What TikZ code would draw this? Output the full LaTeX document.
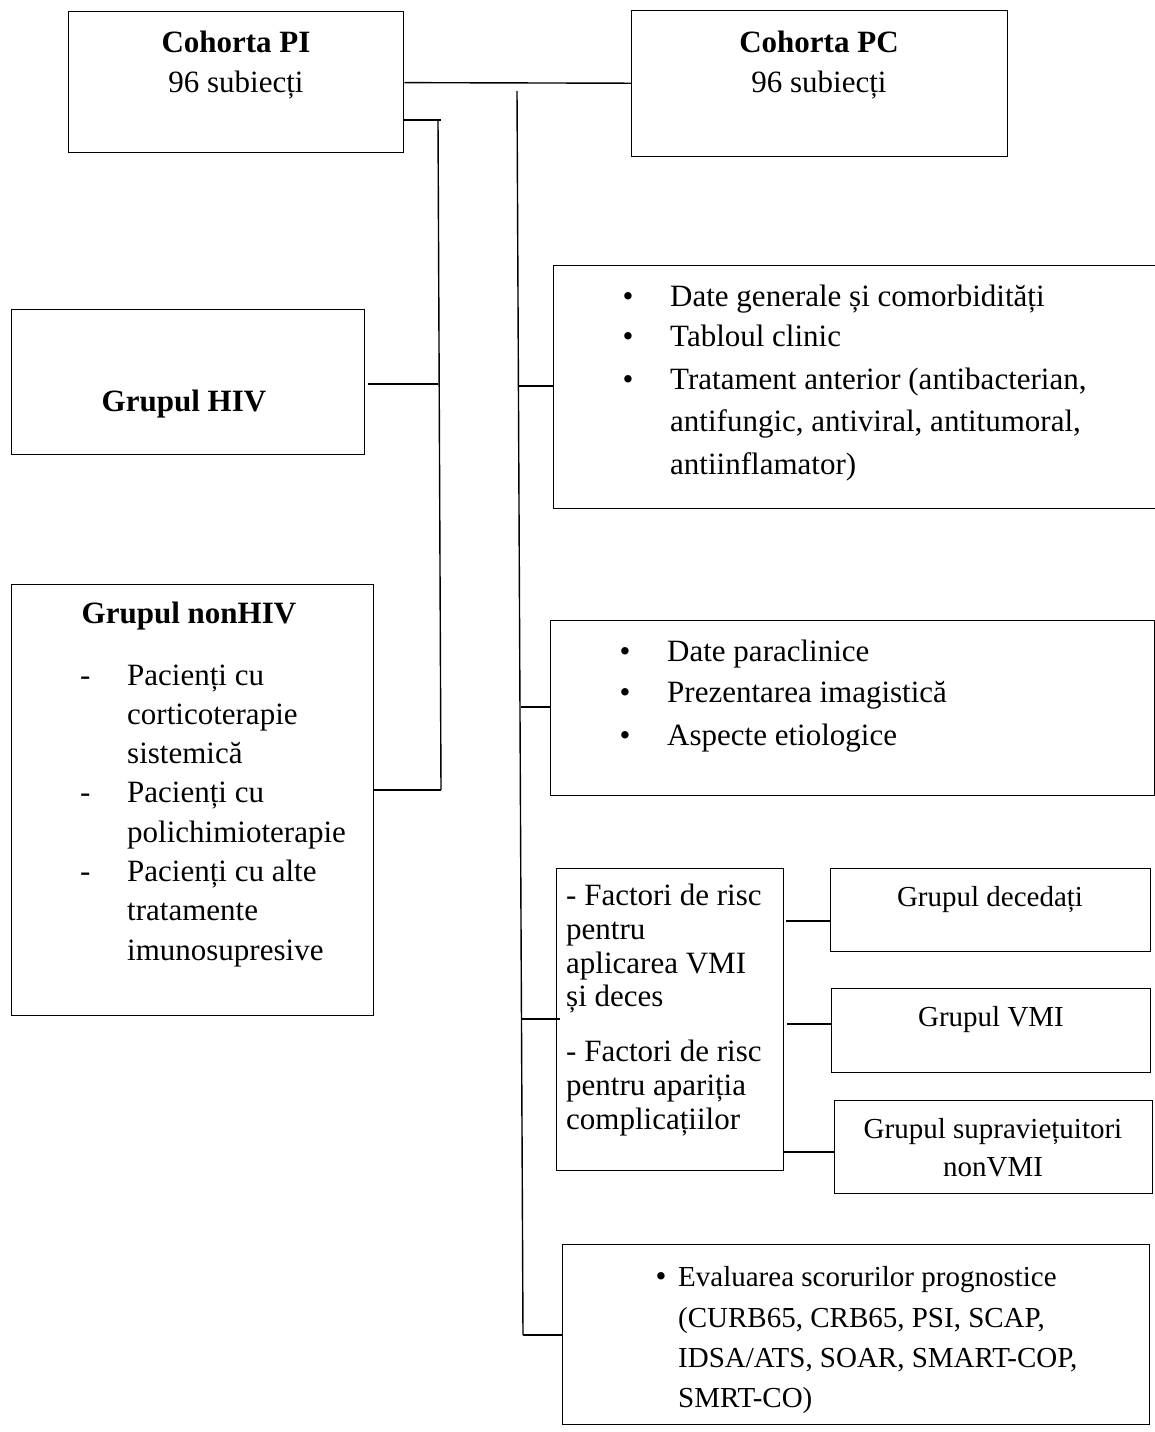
\documentclass[tikz,border=0pt]{standalone}
\usepackage{fontspec}
\setmainfont{Liberation Serif}
\begin{document}
\begin{tikzpicture}[x=1pt,y=-1pt,
  box/.style={draw, line width=1.4pt, inner sep=0pt, anchor=north west},
  conn/.style={line width=1.4pt},
  txt/.style={inner sep=0pt, font=\fontsize{31}{36}\selectfont},
  stxt/.style={inner sep=0pt, font=\fontsize{29}{34}\selectfont},
  btxt/.style={inner sep=0pt, font=\fontsize{31}{36}\selectfont\bfseries}]
\useasboundingbox (0,0) rectangle (1155,1432);
\fill[white] (0,0) rectangle (1155,1432);

% boxes
\node[box, minimum width=335pt, minimum height=141pt] (pi) at (68,11) {};
\node[box, minimum width=376pt, minimum height=146pt] (pc) at (631,10) {};
\node[box, minimum width=353pt, minimum height=145pt] (hiv) at (11,309) {};
\node[box, minimum width=362pt, minimum height=431pt] (nonhiv) at (11,584) {};
\node[box, minimum width=640pt, minimum height=243pt] (gen) at (553,265) {};
\node[box, minimum width=604pt, minimum height=175pt] (para) at (550,620) {};
\node[box, minimum width=227pt, minimum height=302pt] (fact) at (556,868) {};
\node[box, minimum width=320pt, minimum height=83pt] (dec) at (830,868) {};
\node[box, minimum width=319pt, minimum height=84pt] (vmi) at (831,988) {};
\node[box, minimum width=318pt, minimum height=93pt] (sup) at (834,1100) {};
\node[box, minimum width=587pt, minimum height=180pt] (eval) at (562,1244) {};

% texts
\node[btxt, anchor=base] (tpi1) at (236,52) {Cohorta PI};
\node[txt, anchor=base] (tpi2) at (236,92) {96 subiecți};
\node[btxt, anchor=base] (tpc1) at (819,52) {Cohorta PC};
\node[txt, anchor=base] (tpc2) at (819,92) {96 subiecți};
\node[btxt, anchor=base] (thiv) at (184,411) {Grupul HIV};
\node[btxt, anchor=base] (tnh) at (189,623) {Grupul nonHIV};
\foreach \y/\t [count=\i] in {685/{Pacienți cu}, 724.3/{corticoterapie}, 763.6/{sistemică},
  802.9/{Pacienți cu}, 842.2/{polichimioterapie}, 881.5/{Pacienți cu alte},
  920.8/{tratamente}, 960.1/{imunosupresive}}
  \node[txt, anchor=base west] (tnh\i) at (127,\y) {\t};
\foreach \y [count=\i] in {685, 802.9, 881.5}
  \node[txt, anchor=base west] (dnh\i) at (80,\y) {-};

% Date generale
\foreach \y [count=\i] in {306, 346, 389}
  \node[txt, anchor=base] (bg\i) at (628,\y) {•};
\node[txt, anchor=base west] (tg1) at (670,306) {Date generale și comorbidități};
\node[txt, anchor=base west] (tg2) at (670,346) {Tabloul clinic};
\node[txt, anchor=base west] (tg3) at (670,389) {Tratament anterior (antibacterian,};
\node[txt, anchor=base west] (tg4) at (670,431) {antifungic, antiviral, antitumoral,};
\node[txt, anchor=base west] (tg5) at (670,474) {antiinflamator)};

% Date paraclinice
\foreach \y/\t [count=\i] in {661/{Date paraclinice}, 702/{Prezentarea imagistică}, 745/{Aspecte etiologice}} {
  \node[txt, anchor=base] (bp\i) at (625,\y) {•};
  \node[txt, anchor=base west] (tp\i) at (667,\y) {\t};
}

% Factori
\foreach \y/\t [count=\i] in {905/{- Factori de risc}, 939.5/{pentru}, 973/{aplicarea VMI}, 1006.7/{și deces},
  1061.7/{- Factori de risc}, 1095/{pentru apariția}, 1129/{complicațiilor}}
  \node[txt, anchor=base west] (tf\i) at (566,\y) {\t};

% small groups
\node[stxt, anchor=base] (tdec) at (990,906) {Grupul decedați};
\node[stxt, anchor=base] (tvmi) at (991,1026) {Grupul VMI};
\node[stxt, anchor=base] (tsup1) at (993,1138) {Grupul supraviețuitori};
\node[stxt, anchor=base] (tsup2) at (993,1176) {nonVMI};

% Evaluarea
\node[txt, anchor=base] (be1) at (661,1286) {•};
\node[stxt, anchor=base west] (te1) at (678,1286) {Evaluarea scorurilor prognostice};
\node[stxt, anchor=base west] (te2) at (678,1327) {(CURB65, CRB65, PSI, SCAP,};
\node[stxt, anchor=base west] (te3) at (678,1367) {IDSA/ATS, SOAR, SMART-COP,};
\node[stxt, anchor=base west] (te4) at (678,1407) {SMRT-CO)};

% connectors
\draw[conn] (pi) -- (pc);
\coordinate (j1) at (441,120);
\coordinate (v1) at (438,120);
\coordinate (v2) at (441,790);
\draw[conn] (pi.north east |- j1) -- (j1);
\draw[conn] (v1) -- (v2);
\coordinate (h1) at (438,384);
\draw[conn] ([xshift=3pt]hiv.east |- h1) -- (h1);
\draw[conn] (nonhiv.east |- v2) -- (v2);

\coordinate (t0) at (517,91);
\coordinate (t1) at (523,1335);
\draw[conn] (t0) -- (t1);
\coordinate (b1) at (518,386);
\coordinate (b2) at (521,707);
\coordinate (b3) at (522,1019);
\draw[conn] (b1) -- (b1 -| gen.west);
\draw[conn] (b2) -- (b2 -| para.west);
\draw[conn] (b3) -- ([xshift=4pt]b3 -| fact.west);
\draw[conn] (t1) -- (t1 -| eval.west);

\coordinate (c1) at (786,921);
\coordinate (c2) at (787,1024);
\coordinate (c3) at (783,1152);
\draw[conn] (c1) -- (c1 -| dec.west);
\draw[conn] (c2) -- (c2 -| vmi.west);
\draw[conn] (c3) -- (c3 -| sup.west);
\end{tikzpicture}
\end{document}
